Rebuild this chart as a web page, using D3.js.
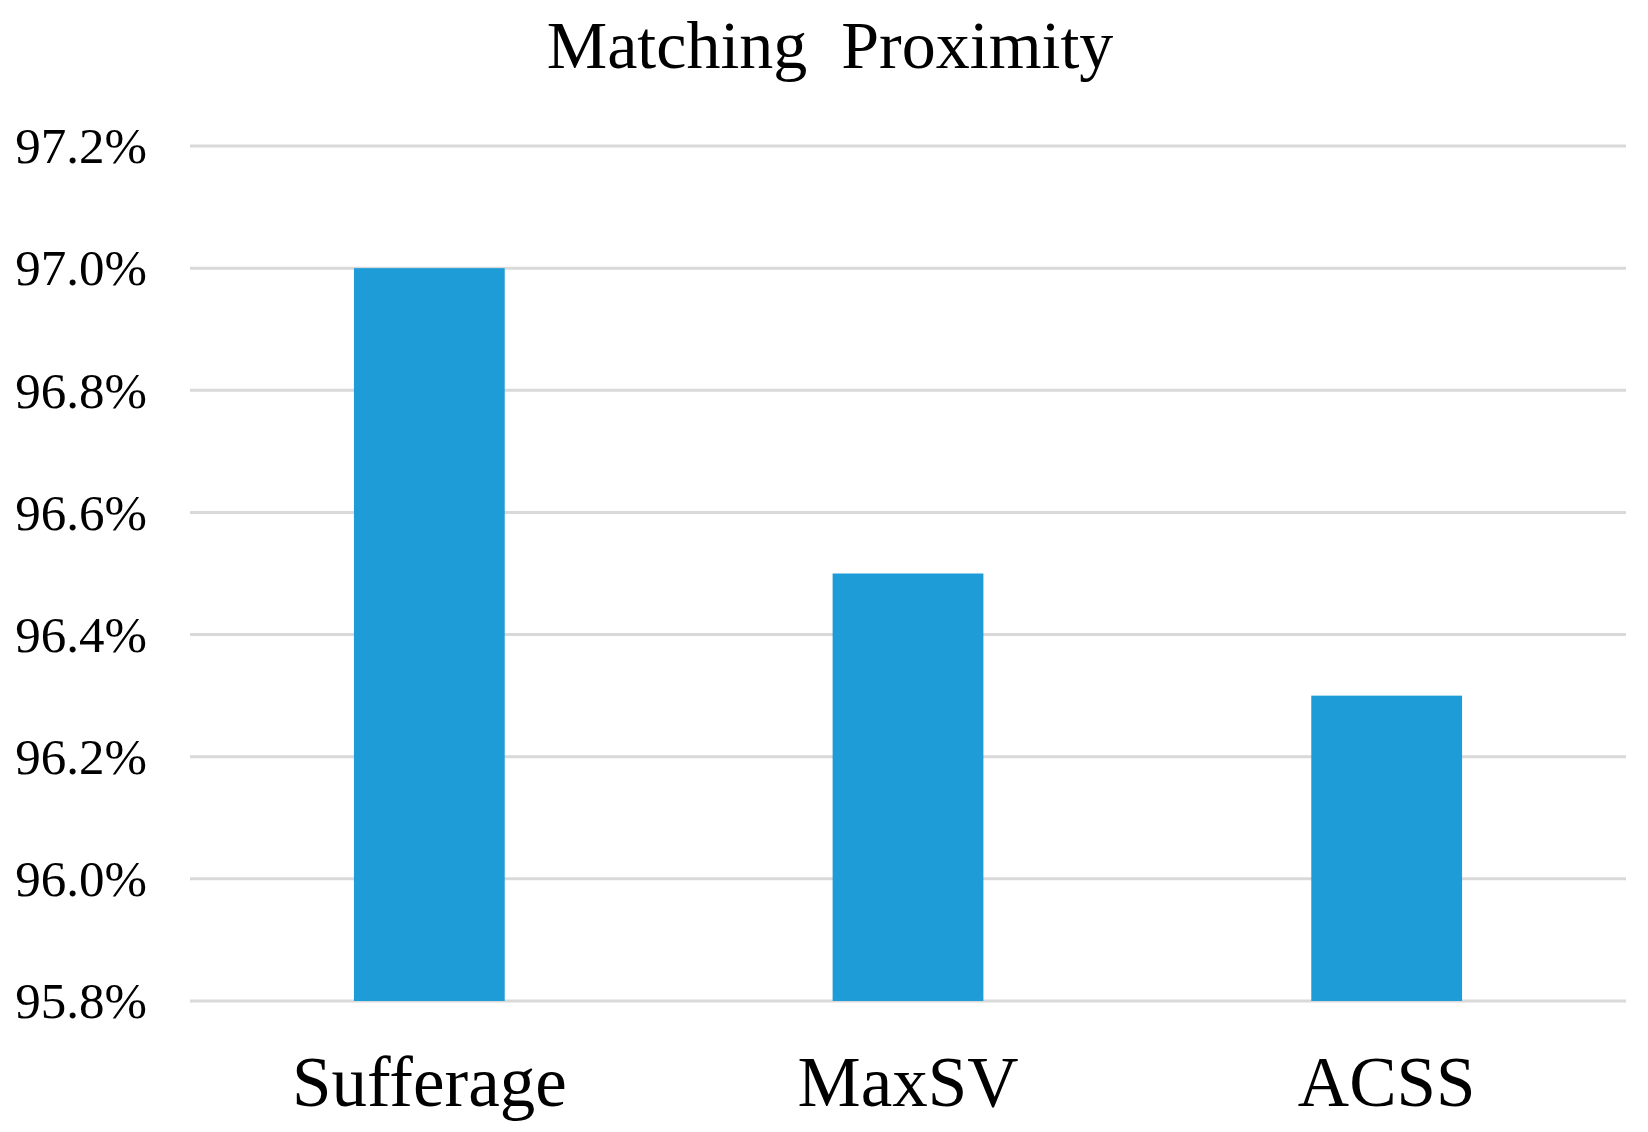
<!DOCTYPE html>
<html lang="en">
<head>
	<meta charset="UTF-8"/>
	<title>Matching Proximity</title>
	<script src="https://d3js.org/d3.v7.min.js"></script>
	<style>
		body { margin: 0; background: #fff; }
		svg { display: block; }
	</style>
</head>
<body>
	<script>
		var categories = ["Sufferage", "MaxSV", "ACSS"];
		var values = [97.0, 96.5, 96.3];
		var yTicks = [95.8, 96.0, 96.2, 96.4, 96.6, 96.8, 97.0, 97.2];

		var w = 1648;
		var h = 1132;
		var plotLeft = 190, plotRight = 1626, plotTop = 146, plotBottom = 1001;
		var font = "'Liberation Serif', 'Times New Roman', serif";

		var svg = d3.select("body").append("svg").attr("width", w).attr("height", h);

		var xScale = d3.scaleBand()
			.domain(categories)
			.range([plotLeft, plotRight])
			.paddingInner(0.685)
			.paddingOuter(0.3425);

		var yScale = d3.scaleLinear()
			.domain([95.8, 97.2])
			.range([plotBottom, plotTop]);

		// gridlines
		svg.selectAll("line.grid").data(yTicks).enter().append("line")
			.attr("class", "grid")
			.attr("x1", plotLeft)
			.attr("x2", plotRight)
			.attr("y1", function(d){ return yScale(d); })
			.attr("y2", function(d){ return yScale(d); })
			.attr("stroke", "#d9d9d9")
			.attr("stroke-width", 3);

		// y tick labels
		svg.selectAll("text.ytick").data(yTicks).enter().append("text")
			.attr("class", "ytick")
			.text(function(d){ return d.toFixed(1) + "%"; })
			.attr("x", 147)
			.attr("y", function(d){ return yScale(d); })
			.attr("dy", "0.34em")
			.attr("text-anchor", "end")
			.attr("font-family", font)
			.attr("font-size", "51px")
			.attr("fill", "#000");

		// bars
		svg.selectAll("rect").data(values).enter().append("rect")
			.attr("x", function(d, i){ return xScale(categories[i]); })
			.attr("y", function(d){ return yScale(d); })
			.attr("width", xScale.bandwidth())
			.attr("height", function(d){ return yScale(95.8) - yScale(d); })
			.attr("fill", "#1e9cd8");

		// x labels
		svg.selectAll("text.xlabel").data(categories).enter().append("text")
			.attr("class", "xlabel")
			.text(function(d){ return d; })
			.attr("x", function(d){ return xScale(d) + xScale.bandwidth() / 2; })
			.attr("y", 1106)
			.attr("text-anchor", "middle")
			.attr("font-family", font)
			.attr("font-size", "71px")
			.attr("fill", "#000");

		// title
		svg.append("text")
			.text("Matching\u00a0 Proximity")
			.attr("x", 830)
			.attr("y", 68)
			.attr("text-anchor", "middle")
			.attr("font-family", font)
			.attr("font-size", "68px")
			.attr("fill", "#000");
	</script>
</body>
</html>
